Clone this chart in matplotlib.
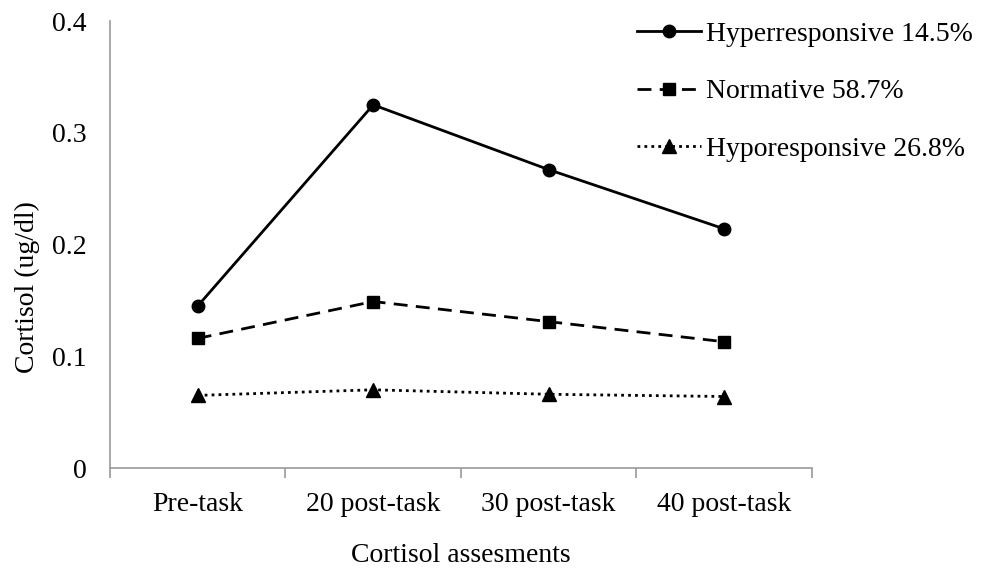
import matplotlib.pyplot as plt

plt.rcParams['font.family'] = ['Liberation Serif', 'DejaVu Serif']

stages = ['Pre-task', '20 post-task', '30 post-task', '40 post-task']
hyper  = [0.145, 0.325, 0.267, 0.214]
norm   = [0.116, 0.149, 0.131, 0.113]
hypo   = [0.065, 0.070, 0.066, 0.064]
labels = ['Hyperresponsive 14.5%', 'Normative 58.7%', 'Hyporesponsive 26.8%']

fig = plt.figure(figsize=(9.81, 5.68), dpi=100)
ax = fig.add_axes([0.1121, 0.176, 0.7156, 0.787])

x = range(len(stages))
ax.plot(x, hyper, color='black', lw=2, ls='-', marker='o', ms=9, label=labels[0])
ax.plot(x, norm, color='black', lw=2, ls=(0, (5, 3)), marker='s', ms=8, label=labels[1])
ax.plot(x, hypo, color='black', lw=2, ls=(0, (1, 1.5)), marker='^', ms=10, label=labels[2])

ax.set_xlim(-0.5, 3.5)
ax.set_ylim(0, 0.4)
ax.set_yticks([0, 0.1, 0.2, 0.3, 0.4])
ax.set_yticklabels(['0', '0.1', '0.2', '0.3', '0.4'])
ax.set_xticks(list(x))
ax.set_xticklabels(stages)
ax.set_xticks([-0.5, 0.5, 1.5, 2.5, 3.5], minor=True)
ax.tick_params(axis='x', which='major', length=0, pad=17, labelsize=20)
ax.tick_params(axis='x', which='minor', length=7, color='#999999', width=1.2)
ax.tick_params(axis='y', length=0, pad=17, labelsize=20)

for s in ['top', 'right']:
    ax.spines[s].set_visible(False)
for s in ['left', 'bottom']:
    ax.spines[s].set_color('#999999')
    ax.spines[s].set_linewidth(1.2)

ax.set_xlabel('Cortisol assesments', fontsize=20, labelpad=19)
ax.set_ylabel('Cortisol (ug/dl)', fontsize=20)
ax.yaxis.set_label_coords(-0.100, 0.405)

ax.legend(loc='upper left', bbox_to_anchor=(0.715, 1.055), frameon=False,
          fontsize=20, handlelength=2.3, handletextpad=0.2, labelspacing=1.15)

fig.savefig('out.png', dpi=100)
